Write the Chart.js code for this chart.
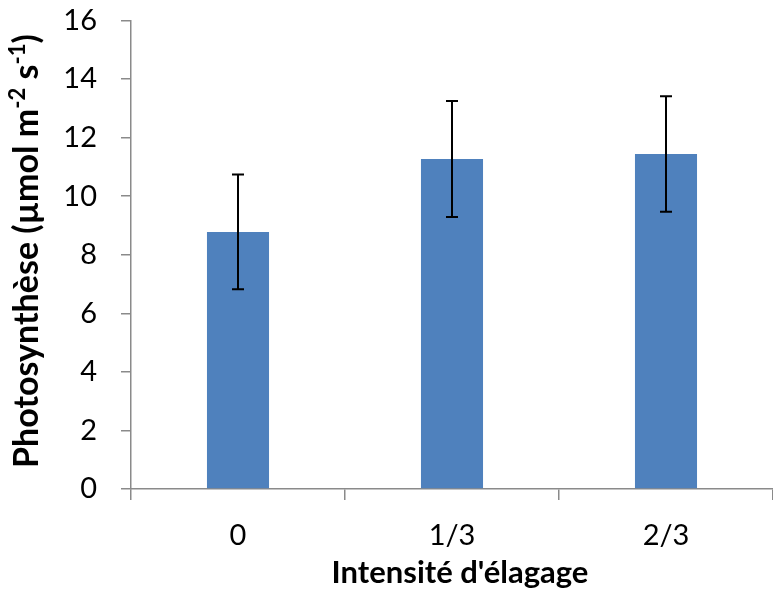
<!DOCTYPE html>
<html>
<head>
<meta charset="utf-8">
<script src="https://cdn.jsdelivr.net/npm/chart.js@4.4.1/dist/chart.umd.min.js"></script>
<style>
  html, body { margin: 0; padding: 0; background: #ffffff; overflow: hidden; }
  #wrap { width: 773px; height: 610px; position: relative; }
</style>
</head>
<body>
<div id="wrap"><canvas id="c" width="773" height="610"></canvas></div>
<script>
const categories = ['0', '1/3', '2/3'];
const photosynthesis = [8.78, 11.27, 11.44];
const errors = [1.96, 1.98, 1.97];
const yTicks = [0, 2, 4, 6, 8, 10, 12, 14, 16];
const xTitle = "Intensité d'élagage";
const yTitleParts = [
  { text: 'Photosynthèse (µmol m', sup: false },
  { text: '-2', sup: true },
  { text: ' s', sup: false },
  { text: '-1', sup: true },
  { text: ')', sup: false }
];

const AXIS_COLOR = '#8a8a8a';
const FONT = 'Lato, "Open Sans", sans-serif';

const errorBarPlugin = {
  id: 'errorBars',
  afterDatasetsDraw(chart) {
    const ctx = chart.ctx;
    const x = chart.scales.x, y = chart.scales.y;
    ctx.save();
    ctx.strokeStyle = '#000000';
    ctx.lineWidth = 2;
    categories.forEach((c, i) => {
      const px = x.getPixelForValue(i);
      const top = y.getPixelForValue(photosynthesis[i] + errors[i]);
      const bot = y.getPixelForValue(photosynthesis[i] - errors[i]);
      ctx.beginPath();
      ctx.moveTo(px, top); ctx.lineTo(px, bot);
      ctx.moveTo(px - 6, top); ctx.lineTo(px + 6, top);
      ctx.moveTo(px - 6, bot); ctx.lineTo(px + 6, bot);
      ctx.stroke();
    });
    ctx.restore();
  }
};

const titlesPlugin = {
  id: 'titles',
  afterDraw(chart) {
    const ctx = chart.ctx;
    ctx.save();
    ctx.fillStyle = '#000000';
    // x title: fitted to the reference width (~257 px)
    ctx.font = 'bold 100px ' + FONT;
    const xs = Math.min(31, 100 * 257 / ctx.measureText(xTitle).width);
    ctx.font = 'bold ' + xs.toFixed(1) + 'px ' + FONT;
    ctx.textAlign = 'center';
    ctx.textBaseline = 'alphabetic';
    ctx.fillText(xTitle, 460, 583);
    // y title, rotated with superscripts, fitted to ~445 px
    const measure = (size) => {
      let t = 0;
      yTitleParts.forEach(p => {
        ctx.font = 'bold ' + (p.sup ? size * 0.65 : size).toFixed(1) + 'px ' + FONT;
        t += ctx.measureText(p.text).width;
      });
      return t;
    };
    const ys = Math.min(34, 100 * 445 / measure(100));
    const total = measure(ys);
    ctx.translate(38, 251);
    ctx.rotate(-Math.PI / 2);
    ctx.textAlign = 'left';
    let cx = -total / 2;
    yTitleParts.forEach(p => {
      ctx.font = 'bold ' + (p.sup ? ys * 0.65 : ys).toFixed(1) + 'px ' + FONT;
      ctx.fillText(p.text, cx, p.sup ? -ys * 0.38 : 0);
      cx += ctx.measureText(p.text).width;
    });
    ctx.restore();
  }
};

new Chart(document.getElementById('c'), {
  type: 'bar',
  data: {
    labels: categories,
    datasets: [{
      data: photosynthesis,
      backgroundColor: '#4f81bd',
      borderWidth: 0,
      categoryPercentage: 1.0,
      barPercentage: 0.29
    }]
  },
  options: {
    responsive: false,
    animation: false,
    devicePixelRatio: 1,
    layout: { padding: { top: 20.5, right: 0, bottom: 0, left: 0 } },
    plugins: { legend: { display: false }, tooltip: { enabled: false } },
    scales: {
      x: {
        afterFit(scale) { scale.height = 121; scale.paddingLeft = 0; scale.paddingRight = 0; },
        grid: { offset: true, drawOnChartArea: false, drawTicks: true, tickLength: 11, color: AXIS_COLOR, lineWidth: 1.5 },
        border: { color: AXIS_COLOR, width: 1.5 },
        ticks: { color: '#000000', font: { family: FONT, size: 29 }, padding: 18, maxRotation: 0 }
      },
      y: {
        min: 0, max: 16,
        afterFit(scale) { scale.width = 131; scale.paddingTop = 0; scale.paddingBottom = 0; },
        afterBuildTicks(scale) { scale.ticks = yTicks.map(v => ({ value: v })); },
        grid: { drawOnChartArea: false, drawTicks: true, tickLength: 10, color: AXIS_COLOR, lineWidth: 1.5 },
        border: { color: AXIS_COLOR, width: 1.5 },
        ticks: { color: '#000000', font: { family: FONT, size: 29 }, padding: 24 }
      }
    }
  },
  plugins: [errorBarPlugin, titlesPlugin]
});
</script>
</body>
</html>
